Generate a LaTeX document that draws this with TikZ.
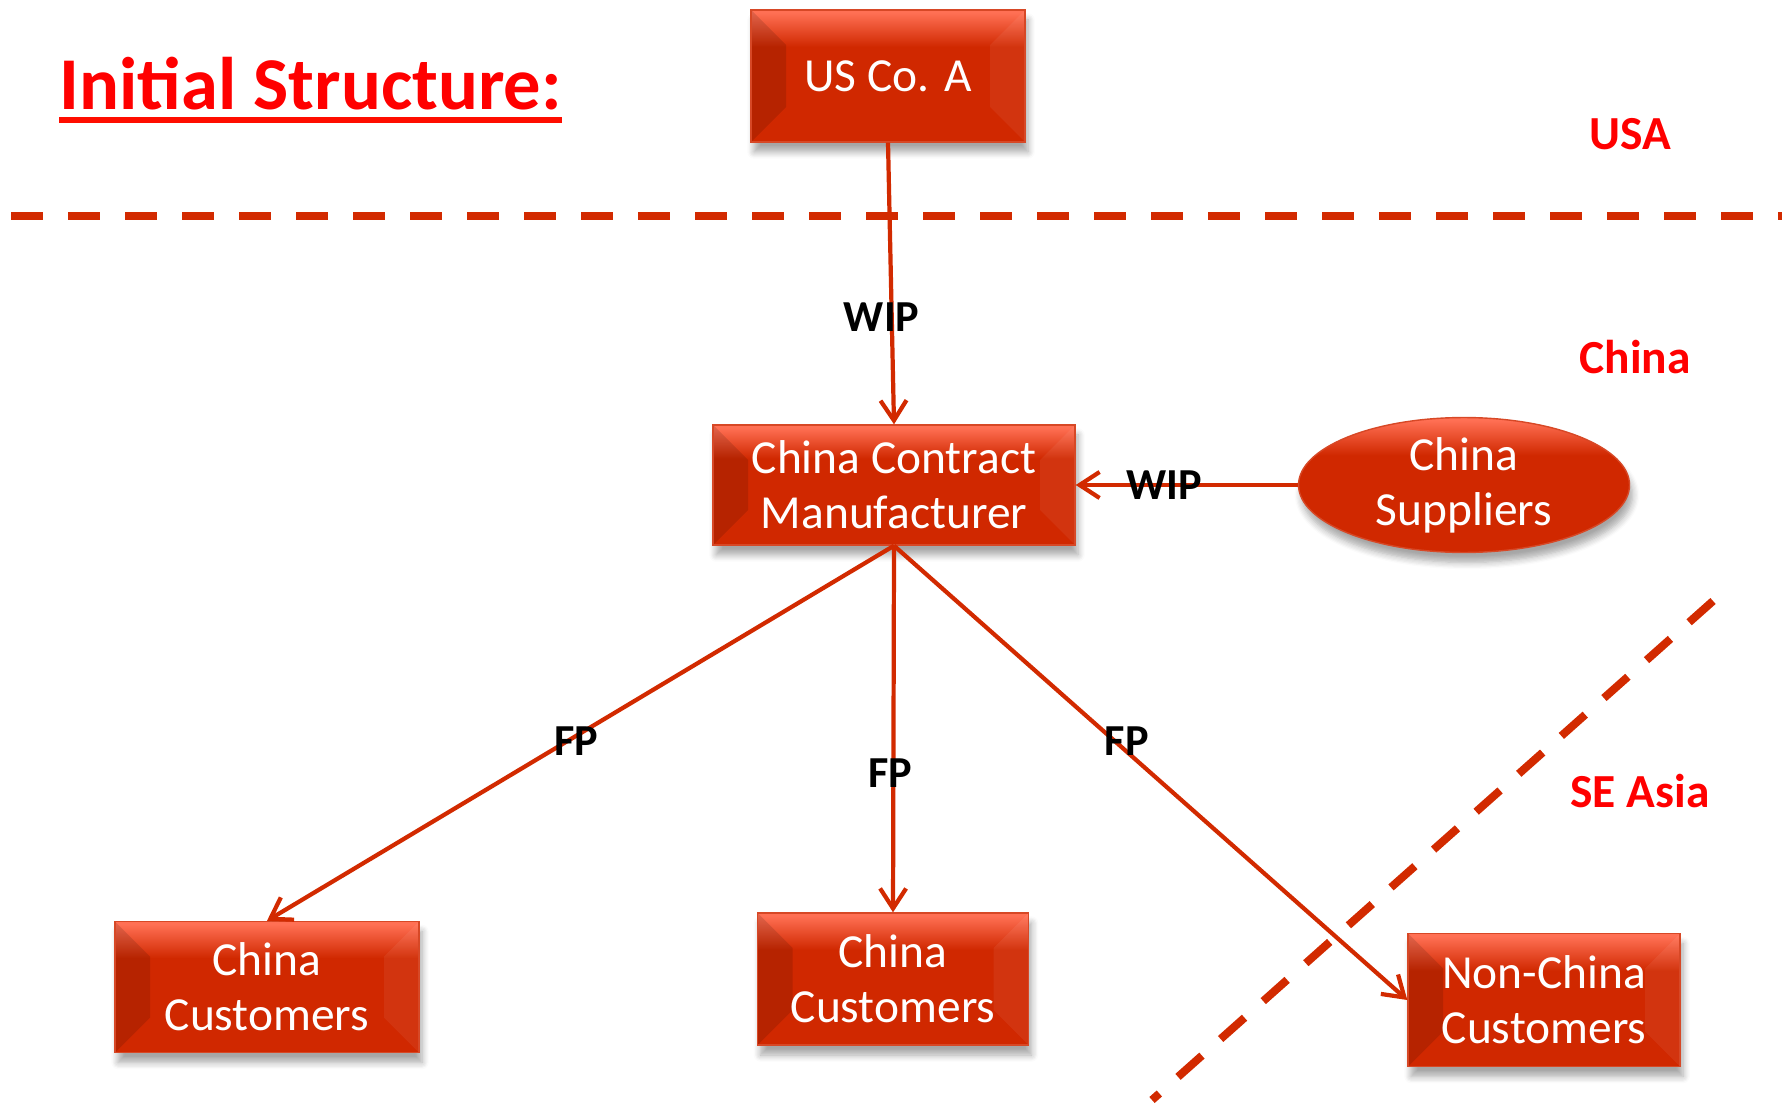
\documentclass[tikz,border=0pt]{standalone}
\usepackage{fontspec}
\setmainfont{Carlito}
\usetikzlibrary{arrows.meta,shapes.geometric,shadows.blur}
\definecolor{boxRed}{RGB}{208,40,0}
\definecolor{boxTop}{RGB}{255,112,84}
\definecolor{lineRed}{RGB}{210,42,0}
\definecolor{labelRed}{RGB}{255,0,0}
\pgfdeclareverticalshading{bevel}{100bp}{color(0bp)=(boxRed); color(61bp)=(boxRed); color(74bp)=(boxTop); color(100bp)=(boxTop)}

\tikzset{
  entity/.style={draw=boxRed!85!white, line width=0.4pt, shading=bevel, shade, text=white,
    font=\fontsize{13.5}{15.6}\selectfont, align=center, inner sep=0pt,
    blur shadow={shadow xshift=0.3mm,shadow yshift=-1mm,shadow blur steps=6,shadow opacity=35}},
  edged/.style={path picture={
      \fill[black,opacity=0.12] (path picture bounding box.north west) -- ++(0.35,-0.35)
        |- ([xshift=0.35cm,yshift=0.35cm]path picture bounding box.south west) -- (path picture bounding box.south west) -- cycle;
      \fill[white,opacity=0.06] (path picture bounding box.north east) -- ++(-0.35,-0.35)
        |- ([xshift=-0.35cm,yshift=0.35cm]path picture bounding box.south east) -- (path picture bounding box.south east) -- cycle;}},
  flow/.style={lineRed, line width=1.2pt, -{Straight Barb[length=2mm,width=2.6mm]}},
  goods/.style={font=\fontsize{12.6}{14}\selectfont\bfseries, text=black, inner sep=0pt},
  region/.style={font=\fontsize{13.5}{16}\selectfont\bfseries, text=labelRed},
  border/.style={lineRed, line width=0.8mm, dash pattern=on 3.2mm off 2.5mm}
}

\begin{document}
\begin{tikzpicture}

\useasboundingbox (0,0) rectangle (17.85,11.08);

% Title
\node[anchor=base west, inner sep=0pt, text=labelRed,
  font=\fontsize{21.2}{25}\selectfont\bfseries] (title) at (0.59,9.98) {Initial Structure:};
\draw[labelRed!90!orange, line width=0.6mm] ([yshift=-1mm]title.base west) -- ([yshift=-1mm]title.base east);

% Borders between regions
\draw[border] (0.11,8.92) -- (17.82,8.92);
\draw[border] (17.13,5.07) -- (11.52,0.08);

% Region names
\node[region] (usa) at (16.30,9.74) {USA};
\node[region] (china) at (16.35,7.51) {China};
\node[region] (seasia) at (16.40,3.17) {SE Asia};

% Companies
\node[entity, edged, minimum width=2.74cm, minimum height=1.32cm] (usco) at (8.88,10.32) {US Co. A};
\node[entity, edged, minimum width=3.62cm, minimum height=1.20cm] (contract) at (8.94,6.23) {China Contract\\Manufacturer};
\node[entity, ellipse, minimum width=3.31cm, minimum height=1.26cm] (supp) at (14.64,6.23) {China\\Suppliers};
\node[entity, edged, minimum width=3.04cm, minimum height=1.31cm] (custL) at (2.67,1.21) {China\\Customers};
\node[entity, edged, minimum width=2.71cm, minimum height=1.32cm] (custM) at (8.93,1.29) {China\\Customers};
\node[entity, edged, minimum width=2.72cm, minimum height=1.33cm] (custX) at (15.44,1.08) {Non-China\\Customers};

% Flows
\draw[flow] (usco.south) -- (contract.north) node[goods, pos=0.62, xshift=-0.1cm] (wipA) {WIP};
\draw[flow] (supp.west) -- (contract.east) node[goods, pos=0.6] (wipB) {WIP};
\draw[flow] (contract.south) -- (custL.north) node[goods, pos=0.52, xshift=0.08cm] (fpL) {FP};
\draw[flow] (contract.south) -- (custM.north) node[goods, pos=0.62, xshift=-0.03cm] (fpM) {FP};
\draw[flow] (contract.south) -- (custX.west) node[goods, pos=0.43, xshift=0.12cm] (fpX) {FP};

\end{tikzpicture}
\end{document}
